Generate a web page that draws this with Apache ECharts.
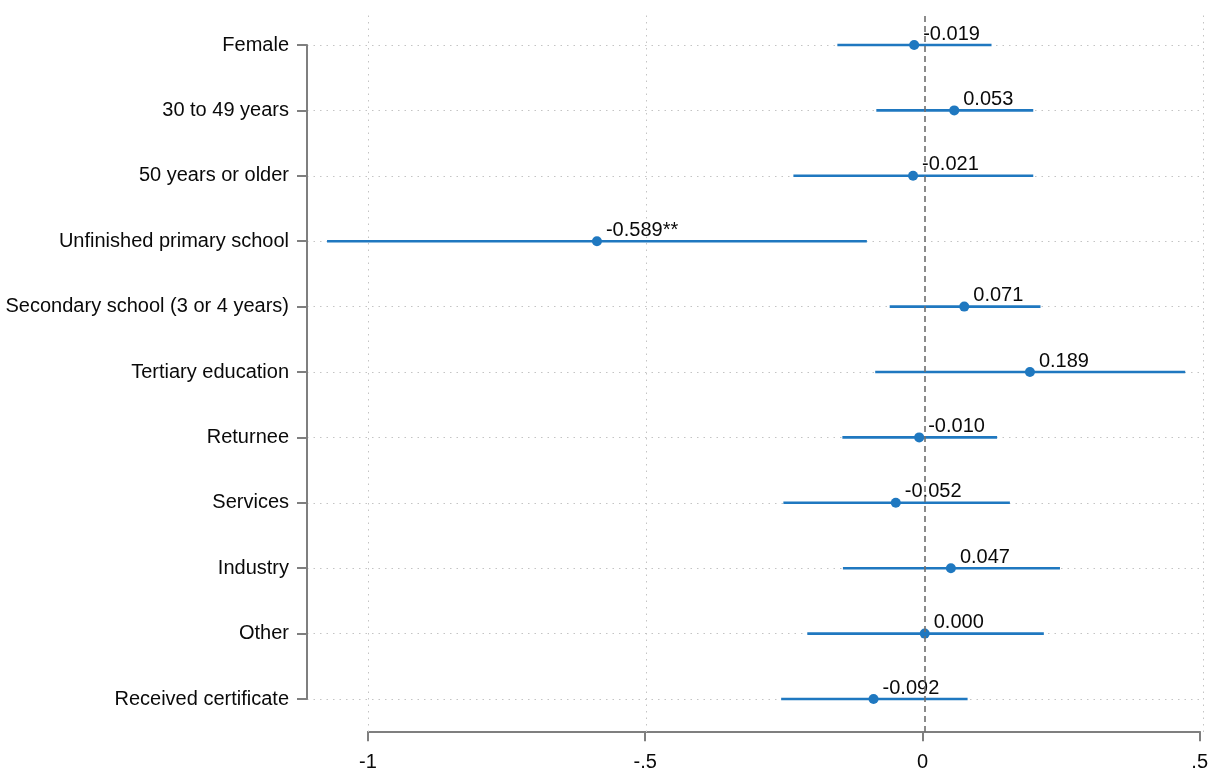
<!DOCTYPE html>
<html>
<head>
<meta charset="utf-8">
<script src="https://cdn.jsdelivr.net/npm/echarts@6/dist/echarts.min.js"></script>
<style>
  html, body { margin: 0; padding: 0; background: #fff; }
  #chart { width: 1211px; height: 771px; }
</style>
</head>
<body>
<div id="chart"></div>
<script>
// Coefficient plot: point estimates with confidence intervals
const categories = [
  'Female',
  '30 to 49 years',
  '50 years or older',
  'Unfinished primary school',
  'Secondary school (3 or 4 years)',
  'Tertiary education',
  'Returnee',
  'Services',
  'Industry',
  'Other',
  'Received certificate'
];
const estimates = [-0.019, 0.053, -0.021, -0.589, 0.071, 0.189, -0.010, -0.052, 0.047, 0.000, -0.092];
const ciLower = [-0.157, -0.087, -0.236, -1.074, -0.063, -0.089, -0.148, -0.254, -0.147, -0.211, -0.258];
const ciUpper = [0.120, 0.195, 0.195, -0.104, 0.208, 0.468, 0.130, 0.153, 0.243, 0.214, 0.077];
const stars = ['', '', '', '**', '', '', '', '', '', '', ''];
const xTicks = [-1, -0.5, 0, 0.5];
const xTickLabels = ['-1', '-.5', '0', '.5'];

const BLUE = '#1f78c0';
const AXIS = '#7f7f7f';
const TEXT = '#0a0a0a';
const FONT = '"Liberation Sans", Arial, Helvetica, sans-serif';
const X_MIN = -1.11, X_MAX = 0.5;

const chart = echarts.init(document.getElementById('chart'), null, { renderer: 'canvas' });

const option = {
  backgroundColor: '#ffffff',
  animation: false,
  textStyle: { fontFamily: FONT },
  grid: [
    // markers and category axis
    { left: 307, right: 8, top: 45, bottom: 72 },
    // full-height plot region for vertical reference lines
    { left: 307, right: 8, top: 13, bottom: 39 },
    // numeric x axis
    { left: 368, right: 8, bottom: 39, height: 1 }
  ],
  xAxis: [
    { gridIndex: 0, type: 'value', min: X_MIN, max: X_MAX, show: false },
    { gridIndex: 1, type: 'value', min: X_MIN, max: X_MAX, show: false },
    {
      gridIndex: 2, type: 'value', min: xTicks[0], max: xTicks[xTicks.length - 1], interval: 0.5,
      axisLine: { show: true, onZero: false, lineStyle: { color: AXIS, width: 2 } },
      axisTick: { show: true, length: 10, lineStyle: { color: AXIS, width: 2 } },
      splitLine: { show: false },
      axisLabel: {
        color: TEXT, fontSize: 20, fontFamily: FONT, margin: 21,
        formatter: v => {
          const i = xTicks.findIndex(t => Math.abs(t - v) < 1e-9);
          return i >= 0 ? xTickLabels[i] : '';
        }
      }
    }
  ],
  yAxis: [
    {
      gridIndex: 0, type: 'category', data: categories, inverse: true, boundaryGap: false,
      axisLine: { show: true, onZero: false, lineStyle: { color: AXIS, width: 2 } },
      axisTick: { show: true, length: 10, alignWithLabel: true, lineStyle: { color: AXIS, width: 2 } },
      axisLabel: { color: TEXT, fontSize: 20, fontFamily: FONT, margin: 18 },
      splitLine: { show: true, lineStyle: { color: '#c4c4c4', width: 1, type: [1.5, 5] } }
    },
    { gridIndex: 1, type: 'value', min: 0, max: 1, show: false },
    { gridIndex: 2, type: 'value', min: 0, max: 1, show: false }
  ],
  series: [
    {
      // vertical grid lines and the zero reference line
      type: 'line', xAxisIndex: 1, yAxisIndex: 1, data: [], silent: true, z: 1,
      markLine: {
        silent: true, symbol: 'none', label: { show: false },
        data: [
          ...xTicks.filter(t => t !== 0).map(t => ({ xAxis: t, lineStyle: { color: '#c4c4c4', width: 1, type: [1.5, 5] } })),
          { xAxis: 0, lineStyle: { color: '#6f6f6f', width: 1.6, type: [6, 4] } }
        ]
      }
    },
    {
      // confidence interval spans
      type: 'custom', xAxisIndex: 0, yAxisIndex: 0, clip: false, z: 3,
      data: categories.map((c, i) => [ciLower[i], ciUpper[i], i]),
      renderItem: (params, api) => {
        const p0 = api.coord([api.value(0), api.value(2)]);
        const p1 = api.coord([api.value(1), api.value(2)]);
        return {
          type: 'line',
          shape: { x1: p0[0], y1: p0[1], x2: p1[0], y2: p1[1] },
          style: { stroke: BLUE, lineWidth: 2.6 }
        };
      }
    },
    {
      // point estimates with labels
      type: 'scatter', xAxisIndex: 0, yAxisIndex: 0, z: 4,
      symbol: 'circle', symbolSize: 10,
      itemStyle: { color: BLUE, opacity: 1 },
      data: categories.map((c, i) => [estimates[i], i]),
      label: {
        show: true, position: 'right', distance: 4, offset: [0, -11],
        color: TEXT, fontSize: 20, fontFamily: FONT,
        textBorderWidth: 0, opacity: 1,
        formatter: p => estimates[p.dataIndex].toFixed(3) + stars[p.dataIndex]
      }
    }
  ]
};

chart.setOption(option);
</script>
</body>
</html>
